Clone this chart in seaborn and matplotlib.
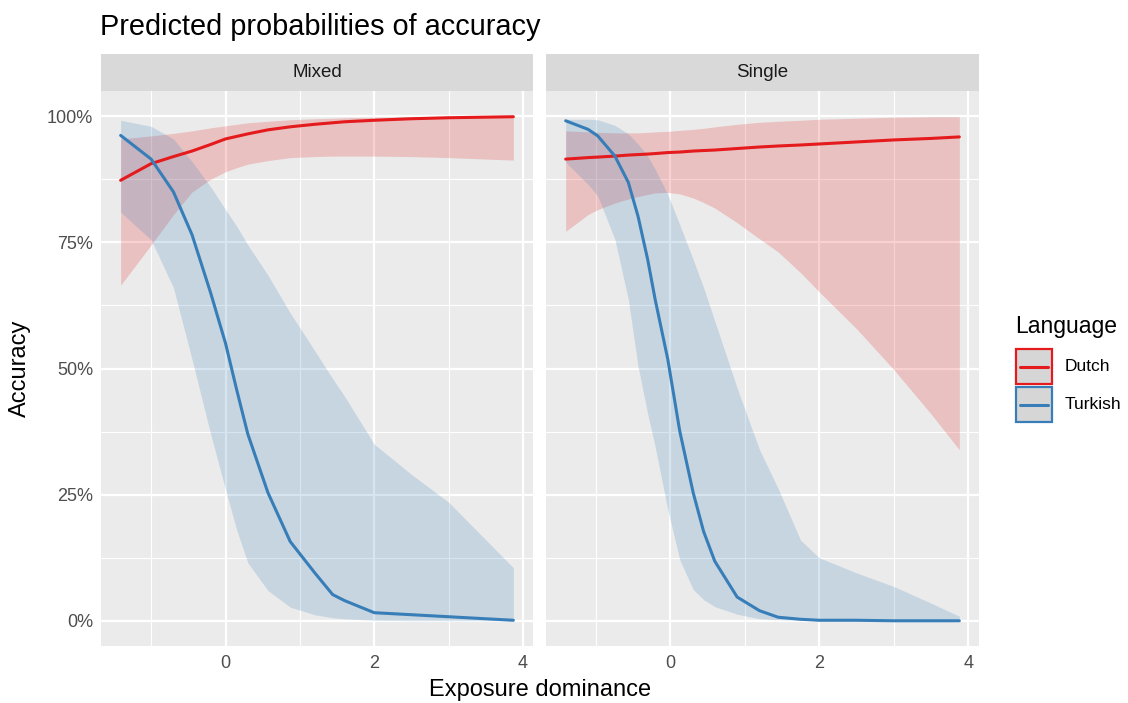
import numpy as np
import pandas as pd
import matplotlib
matplotlib.use("Agg")
import matplotlib.pyplot as plt
import seaborn as sns
from matplotlib.patches import Rectangle
from matplotlib.lines import Line2D

# ---------------- data ----------------
facets = ["Mixed", "Single"]
languages = ["Dutch", "Turkish"]
palette = {"Dutch": "#E41A1C", "Turkish": "#377EB8"}

mixed_x = [-1.41, -1.0, -0.7, -0.45, -0.2, 0.0, 0.15, 0.3, 0.57, 0.87,
           1.2, 1.44, 1.6, 2.0, 2.5, 3.0, 3.87]
mixed_dutch_fit = [0.873, 0.906, 0.920, 0.931, 0.944, 0.955, 0.960, 0.965, 0.973, 0.979,
                   0.984, 0.987, 0.989, 0.992, 0.995, 0.997, 0.999]
mixed_dutch_lo = [0.665, 0.745, 0.805, 0.850, 0.875, 0.890, 0.898, 0.905, 0.912, 0.918,
                  0.920, 0.921, 0.921, 0.921, 0.920, 0.918, 0.913]
mixed_dutch_hi = [0.955, 0.961, 0.966, 0.971, 0.977, 0.981, 0.984, 0.987, 0.990, 0.993,
                  0.995, 0.996, 0.997, 0.998, 0.999, 0.999, 1.000]
mixed_turkish_fit = [0.962, 0.915, 0.850, 0.765, 0.650, 0.550, 0.458, 0.370, 0.254, 0.157,
                     0.095, 0.052, 0.040, 0.016, 0.012, 0.008, 0.001]
mixed_turkish_lo = [0.810, 0.755, 0.660, 0.518, 0.370, 0.260, 0.180, 0.115, 0.060, 0.027,
                    0.012, 0.006, 0.004, 0.001, 0.000, 0.000, 0.000]
mixed_turkish_hi = [0.992, 0.980, 0.955, 0.910, 0.860, 0.815, 0.782, 0.745, 0.685, 0.610,
                    0.535, 0.480, 0.445, 0.350, 0.290, 0.235, 0.105]

single_x = [-1.40, -1.1, -0.97, -0.74, -0.56, -0.43, -0.3, -0.2, -0.03, 0.13, 0.31,
            0.45, 0.6, 0.9, 1.2, 1.45, 1.75, 2.0, 2.5, 3.0, 3.5, 3.88]
single_dutch_fit = [0.915, 0.918, 0.919, 0.921, 0.923, 0.924, 0.925, 0.926, 0.928, 0.929, 0.931,
                    0.932, 0.933, 0.936, 0.939, 0.941, 0.943, 0.945, 0.949, 0.953, 0.956, 0.959]
single_dutch_lo = [0.772, 0.805, 0.815, 0.828, 0.836, 0.841, 0.845, 0.848, 0.849, 0.846, 0.838,
                   0.829, 0.818, 0.789, 0.757, 0.731, 0.690, 0.652, 0.579, 0.498, 0.410, 0.339]
single_dutch_hi = [0.971, 0.969, 0.968, 0.967, 0.967, 0.967, 0.968, 0.969, 0.970, 0.972, 0.974,
                   0.976, 0.979, 0.984, 0.988, 0.990, 0.992, 0.994, 0.996, 0.998, 0.999, 0.999]
single_turkish_fit = [0.991, 0.974, 0.961, 0.921, 0.869, 0.802, 0.716, 0.637, 0.518, 0.376, 0.254,
                      0.177, 0.118, 0.047, 0.020, 0.007, 0.003, 0.001, 0.001, 0.000, 0.000, 0.000]
single_turkish_lo = [0.909, 0.865, 0.842, 0.756, 0.637, 0.505, 0.410, 0.345, 0.220, 0.121, 0.062,
                     0.042, 0.028, 0.013, 0.004, 0.002, 0.001, 0.000, 0.000, 0.000, 0.000, 0.000]
single_turkish_hi = [0.994, 0.994, 0.993, 0.982, 0.965, 0.945, 0.921, 0.895, 0.845, 0.785, 0.716,
                     0.660, 0.594, 0.461, 0.339, 0.262, 0.160, 0.125, 0.095, 0.068, 0.035, 0.009]

x_ticks = [0, 2, 4]
y_ticks = [0, 0.25, 0.5, 0.75, 1.0]
y_tick_labels = ["0%", "25%", "50%", "75%", "100%"]
title = "Predicted probabilities of accuracy"
x_label = "Exposure dominance"
y_label = "Accuracy"
legend_title = "Language"

# ---------------- assemble long table ----------------
series = {
    ("Mixed", "Dutch"): (mixed_x, mixed_dutch_fit, mixed_dutch_lo, mixed_dutch_hi),
    ("Mixed", "Turkish"): (mixed_x, mixed_turkish_fit, mixed_turkish_lo, mixed_turkish_hi),
    ("Single", "Dutch"): (single_x, single_dutch_fit, single_dutch_lo, single_dutch_hi),
    ("Single", "Turkish"): (single_x, single_turkish_fit, single_turkish_lo, single_turkish_hi),
}
frames = []
for (fac, lang), (xs, fit, lo, hi) in series.items():
    frames.append(pd.DataFrame({"Condition": fac, "Language": lang, "x": xs,
                                "fit": fit, "lo": lo, "hi": hi}))
df = pd.concat(frames, ignore_index=True)

# ---------------- figure ----------------
FONT = ["Liberation Sans", "DejaVu Sans"]
sns.set_theme(style="darkgrid")
plt.rcParams["font.family"] = FONT

W, H = 1128, 703
fig = plt.figure(figsize=(W / 100, H / 100), dpi=100)
fig.patch.set_facecolor("white")

def fx(px):
    return px / W

def fy(py):
    return 1 - py / H

panel_top, panel_bot = 91, 646
panels = [(101, 533), (546, 979)]
strip_top = 54

tick_size = 13
axes = []
for i, (fac, (l, r)) in enumerate(zip(facets, panels)):
    ax = fig.add_axes([fx(l), fy(panel_bot), fx(r - l), (panel_bot - panel_top) / H])
    axes.append(ax)
    sub = df[df["Condition"] == fac]
    ax.set_facecolor("#EBEBEB")
    for lang in languages:
        s = sub[sub["Language"] == lang]
        ax.fill_between(s["x"], s["lo"], s["hi"], color=palette[lang], alpha=0.2,
                        linewidth=0, zorder=2)
    sns.lineplot(data=sub, x="x", y="fit", hue="Language", hue_order=languages,
                 palette=palette, ax=ax, legend=False, linewidth=2.2,
                 estimator=None, sort=True, zorder=3)
    xmin, xmax = sub["x"].min(), sub["x"].max()
    pad = 0.05 * (xmax - xmin)
    ax.set_xlim(xmin - pad, xmax + pad)
    ax.set_ylim(-0.05, 1.05)
    ax.set_xticks(x_ticks)
    ax.set_xticks([-1, 1, 3], minor=True)
    ax.set_yticks(y_ticks)
    ax.set_yticks([0.125, 0.375, 0.625, 0.875], minor=True)
    ax.grid(which="major", color="white", linewidth=1.6)
    ax.grid(which="minor", color="white", linewidth=0.8)
    ax.set_axisbelow(True)
    for sp in ax.spines.values():
        sp.set_visible(False)
    ax.set_xlabel("")
    ax.set_ylabel("")
    ax.tick_params(axis="x", which="major", length=4, width=1.1, color="#333333",
                   labelsize=tick_size, labelcolor="#4D4D4D", pad=2.5)
    ax.tick_params(which="minor", length=0)
    if i == 0:
        ax.set_yticklabels(y_tick_labels)
        ax.tick_params(axis="y", which="major", length=4, width=1.1, color="#333333",
                       labelsize=tick_size, labelcolor="#4D4D4D", pad=1.5)
    else:
        ax.tick_params(axis="y", which="major", length=0, labelleft=False)
    # strip
    sax = fig.add_axes([fx(l), fy(panel_top), fx(r - l), (panel_top - strip_top) / H])
    sax.set_facecolor("#D9D9D9")
    sax.set_xticks([])
    sax.set_yticks([])
    for sp in sax.spines.values():
        sp.set_visible(False)
    sax.text(0.5, 0.5, fac, ha="center", va="center", fontsize=13.5,
             color="#1A1A1A", transform=sax.transAxes)

fig.text(fx(100), fy(35), title, fontsize=20.8, color="black", ha="left",
         va="baseline")
fig.text(fx(540), fy(690), x_label, fontsize=17, color="black", ha="center",
         va="center")
fig.text(fx(20), fy(368), y_label, fontsize=17, color="black", ha="center",
         va="center", rotation=90)

# ---------------- legend (drawn in a pixel-space overlay) ----------------
lax = fig.add_axes([0, 0, 1, 1], facecolor="none")
lax.set_xlim(0, W)
lax.set_ylim(H, 0)
lax.axis("off")
lax.text(1015, 326, legend_title, fontsize=16.5, color="black", ha="left", va="center")
key_left, key_w, key_h, key_top0, key_gap = 1016, 36, 35, 349, 3
for k, lang in enumerate(languages):
    top = key_top0 + k * (key_h + key_gap)
    lax.add_patch(Rectangle((key_left, top), key_w, key_h, facecolor="#D6D6D6",
                            edgecolor=palette[lang], linewidth=1.6))
    mid = top + key_h / 2
    lax.add_line(Line2D([key_left + 4, key_left + key_w - 4], [mid, mid],
                        color=palette[lang], linewidth=2.2))
    lax.text(key_left + key_w + 13, mid, lang, fontsize=12.5, color="black",
             ha="left", va="center")

fig.savefig("out.png", dpi=100)
